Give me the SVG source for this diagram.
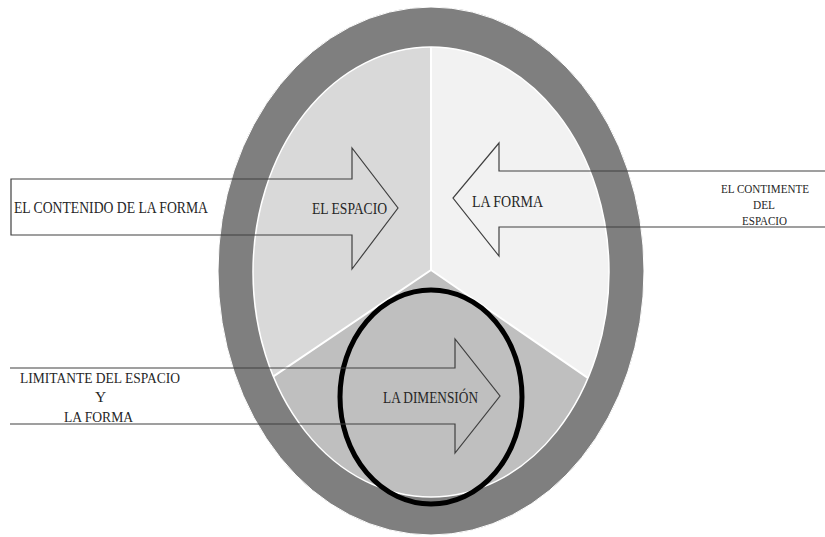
<svg xmlns="http://www.w3.org/2000/svg" width="825" height="537" viewBox="0 0 825 537">
<style>
.arrow{fill:none;stroke:#404040;stroke-width:1.2}
.t{font-family:"Liberation Serif","Times New Roman",serif;fill:#262626;}
.sep{stroke:#fff;stroke-width:2;fill:none}
</style>
<defs>
<clipPath id="inner"><ellipse cx="431" cy="272" rx="178" ry="225"/></clipPath>
</defs>
<rect width="825" height="537" fill="#fff"/>
<g id="ring"><ellipse cx="431" cy="271" rx="213" ry="264" fill="#7f7f7f" stroke="#fff" stroke-width="1"/></g>
<g id="sectors" clip-path="url(#inner)">
<polygon id="sector-espacio" points="431,0 431,270 120,480 120,0" fill="#d9d9d9"/>
<polygon id="sector-forma" points="431,0 431,270 745,486 745,0" fill="#f2f2f2"/>
<polygon id="sector-dimension" points="431,270 120,480 120,537 745,537 745,486" fill="#bfbfbf"/>
<path class="sep" d="M431,40 L431,270 L120,480 M431,270 L745,486"/>
</g>
<ellipse cx="431" cy="272" rx="178" ry="225" fill="none" stroke="#fff" stroke-width="1.5"/>
<g id="focus-ellipse"><ellipse cx="431" cy="397" rx="91" ry="107" fill="none" stroke="#000" stroke-width="5"/></g>
<g id="connectors">
<path id="arrow-espacio" class="arrow" d="M11,179 L352,179 L352,148 L398,208 L352,269 L352,235 L11,235 Z"/>
<path id="arrow-forma" class="arrow" d="M826,171 L499,171 L499,143 L453,198 L499,256 L499,227 L826,227"/>
<path id="arrow-dimension" class="arrow" d="M10,368 L455,368 L455,339 L500,396 L455,453 L455,424 L10,424"/>
</g>
<g id="node-contenido"><text class="t" x="14" y="213" font-size="16" textLength="194" lengthAdjust="spacingAndGlyphs">EL CONTENIDO DE LA FORMA</text></g>
<g id="node-espacio"><text class="t" x="312" y="214" font-size="16" textLength="75" lengthAdjust="spacingAndGlyphs">EL ESPACIO</text></g>
<g id="node-forma"><text class="t" x="472" y="207" font-size="16" textLength="71" lengthAdjust="spacingAndGlyphs">LA FORMA</text></g>
<g id="node-contimente"><text class="t" font-size="13"><tspan x="721" y="193" textLength="88" lengthAdjust="spacingAndGlyphs">EL CONTIMENTE</tspan><tspan x="753" y="209" textLength="22" lengthAdjust="spacingAndGlyphs">DEL</tspan><tspan x="742" y="225" textLength="45" lengthAdjust="spacingAndGlyphs">ESPACIO</tspan></text></g>
<g id="node-limitante"><text class="t" font-size="15.5"><tspan x="20" y="383" textLength="160" lengthAdjust="spacingAndGlyphs">LIMITANTE  DEL ESPACIO</tspan><tspan x="95" y="402">Y</tspan><tspan x="64" y="422" textLength="69" lengthAdjust="spacingAndGlyphs">LA FORMA</tspan></text></g>
<g id="node-dimension"><text class="t" x="383" y="403" font-size="16" textLength="95" lengthAdjust="spacingAndGlyphs">LA DIMENSIÓN</text></g>
</svg>
